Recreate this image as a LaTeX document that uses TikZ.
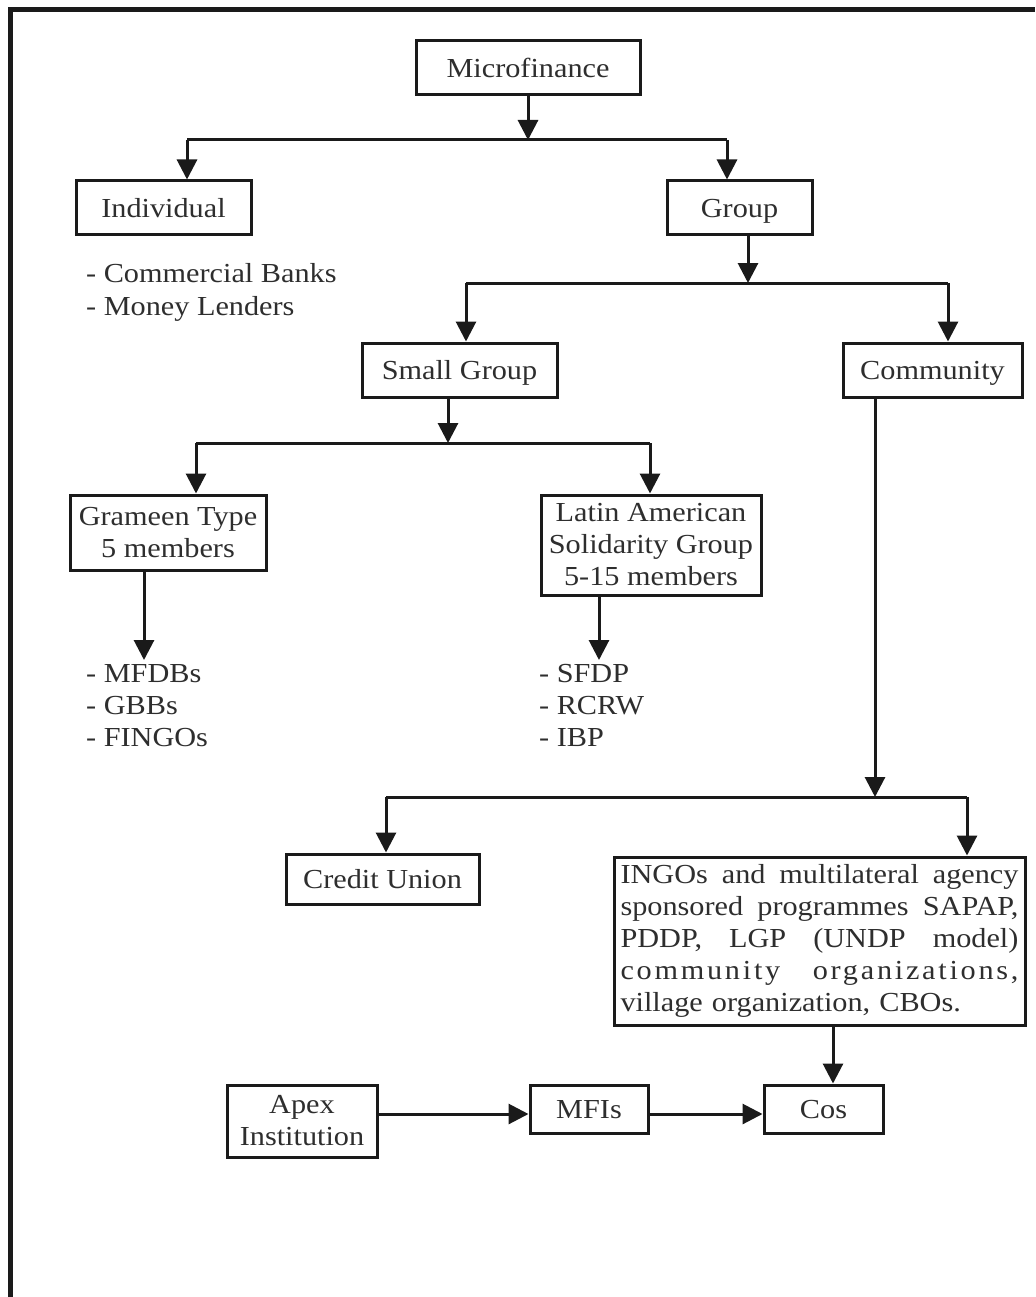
\documentclass[tikz,border=0pt]{standalone}
\usepackage{fontspec}
\setmainfont{Liberation Serif}[FakeStretch=1.1]
\usetikzlibrary{arrows.meta}
\definecolor{ink}{HTML}{1A1A1A}
\definecolor{txt}{HTML}{2E2E2E}
\newcommand\fullline[1]{\leavevmode\hbox to 398pt{#1}}
\begin{document}
\begin{tikzpicture}[x=1pt,y=-1pt,
 every node/.style={font=\fontsize{27.5}{32}\selectfont, text=txt},
 boxnode/.style={draw=ink, line width=3pt, inner sep=0pt, align=center},
 oneline/.style={boxnode, text height=19pt, text depth=0pt},
 conn/.style={draw=ink, line width=3pt},
 arr/.style={conn, -{Triangle[length=20pt,width=20pt]}},
 item/.style={anchor=base west, inner sep=0pt},
]
\useasboundingbox (0,0) rectangle (1035,1297);
\fill[white] (0,0) rectangle (1035,1297);
\draw[ink, line width=5pt, line join=miter] (10.5,1297) -- (10.5,10) -- (1035,10);

% boxes
\node[oneline, minimum width=224pt, minimum height=54pt] (mf) at (528,68) {Microfinance};
\node[oneline, minimum width=175pt, minimum height=54pt] (ind) at (163.5,208) {Individual};
\node[oneline, minimum width=145pt, minimum height=54pt] (grp) at (739.5,208) {Group};
\node[oneline, minimum width=195pt, minimum height=54pt] (sg) at (459.5,370) {Small Group};
\node[oneline, minimum width=179pt, minimum height=54pt] (com) at (932.5,370) {Community};
\node[boxnode, minimum width=196pt, minimum height=75pt] (gra) at (168,532.5) {Grameen Type\\5 members};
\node[boxnode, minimum width=220pt, minimum height=100pt] (lat) at (651,545) {Latin American\\Solidarity Group\\5-15 members};
\node[oneline, minimum width=193pt, minimum height=50pt] (cu) at (382.5,879) {Credit Union};
\node[boxnode, minimum width=411pt, minimum height=168pt, text width=398pt, align=left] (ing) at (819.5,941)
 {\fullline{INGOs\hfill and\hfill multilateral\hfill agency}\\
  \fullline{sponsored\hfill programmes\hfill SAPAP,}\\
  \fullline{PDDP,\hfill LGP\hfill (UNDP\hfill model)}\\
  \fullline{\addfontfeature{LetterSpace=10}community\hfill organizations,}\\
  village organization, CBOs.};
\node[boxnode, minimum width=150pt, minimum height=72pt] (apx) at (302,1121) {Apex\\Institution};
\node[oneline, minimum width=118pt, minimum height=48pt] (mfi) at (589,1109) {MFIs};
\node[oneline, minimum width=119pt, minimum height=48pt] (cos) at (823.5,1109) {Cos};

% lists
\node[item] (l1) at (86,282) {- Commercial Banks};
\node[item] (l2) at (86,315) {- Money Lenders};
\node[item] (g1) at (86,682) {- MFDBs};
\node[item] (g2) at (86,714) {- GBBs};
\node[item] (g3) at (86,746) {- FINGOs};
\node[item] (s1) at (539,682) {- SFDP};
\node[item] (s2) at (539,714) {- RCRW};
\node[item] (s3) at (539,746) {- IBP};

% junction coordinates
\coordinate (j1) at (528,140);
\coordinate (j1l) at (187,140);
\coordinate (j1r) at (727,140);
\coordinate (j2) at (748,283);
\coordinate (j2l) at (466,283);
\coordinate (j2r) at (948,283);
\coordinate (j3) at (448,443);
\coordinate (j3l) at (196,443);
\coordinate (j3r) at (650,443);
\coordinate (gt) at (144,660);
\coordinate (lt) at (599,660);
\coordinate (j4) at (875,797);
\coordinate (j4l) at (386,797);
\coordinate (j4r) at (967,797);
\coordinate (hy) at (0,1114);
\coordinate (iv) at (833,0);

% connectors
\draw[arr] (mf.south) -- (j1);
\draw[conn] (j1l) -- (j1r);
\draw[arr] (j1l) -- (j1l |- ind.north);
\draw[arr] (j1r) -- (j1r |- grp.north);

\draw[arr] (j2 |- grp.south) -- (j2);
\draw[conn] (j2l) -- (j2r);
\draw[arr] (j2l) -- (j2l |- sg.north);
\draw[arr] (j2r) -- (j2r |- com.north);

\draw[arr] (j3 |- sg.south) -- (j3);
\draw[conn] (j3l) -- (j3r);
\draw[arr] (j3l) -- (j3l |- gra.north);
\draw[arr] (j3r) -- (j3r |- lat.north);

\draw[arr] (gt |- gra.south) -- (gt);
\draw[arr] (lt |- lat.south) -- (lt);

\draw[arr] (j4 |- com.south) -- (j4);
\draw[conn] (j4l) -- (j4r);
\draw[arr] (j4l) -- (j4l |- cu.north);
\draw[arr] (j4r) -- (j4r |- ing.north);

\draw[arr] (iv |- ing.south) -- (iv |- cos.north);
\draw[arr] (apx.east |- hy) -- (mfi.west |- hy);
\draw[arr] (mfi.east |- hy) -- (cos.west |- hy);
\end{tikzpicture}
\end{document}
